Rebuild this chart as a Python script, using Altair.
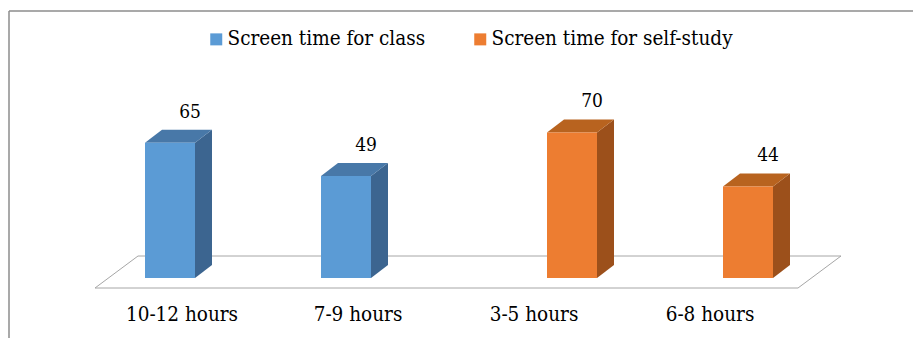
import altair as alt
import pandas as pd

# ---- data ----
categories = ["10-12 hours", "7-9 hours", "3-5 hours", "6-8 hours"]
bar_series = ["Screen time for class", "Screen time for class",
              "Screen time for self-study", "Screen time for self-study"]
values = [65, 49, 70, 44]
series_names = ["Screen time for class", "Screen time for self-study"]

# ---- style ----
front_colors = ["#5B9BD5", "#ED7D31"]
side_colors = ["#3C6590", "#9C501B"]
top_colors = ["#4878A8", "#B8631F"]
FONT = "DejaVu Serif Condensed"

# ---- layout (pixels) ----
W, H = 913, 338
BASE = 278          # pixel row of value 0 at the bar front
K = 2.08            # pixels per unit
STEP = 176          # category step
FIRST_C = 195       # centre of first category slot
BAR_W = 50
DX = 17             # depth, horizontal px
DY = 13 / K         # depth, in value units

front_rows, side_rows, top_rows, lab_rows, cat_rows = [], [], [], [], []
for i, (cat, ser, v) in enumerate(zip(categories, bar_series, values)):
    c = FIRST_C + STEP * i
    si = series_names.index(ser)
    xl = c - BAR_W if si == 0 else c
    xr = xl + BAR_W
    front_rows.append(dict(cat=cat, series=ser, x=xl, x2=xr, y=0, y2=v))
    side_rows += [
        dict(key=cat, col=side_colors[si], x=xr, top=v, bot=0),
        dict(key=cat, col=side_colors[si], x=xr + DX, top=v + DY, bot=DY),
    ]
    top_rows += [
        dict(key=cat, col=top_colors[si], x=xl, top=v, bot=v),
        dict(key=cat, col=top_colors[si], x=xl + DX, top=v + DY, bot=v),
        dict(key=cat, col=top_colors[si], x=xr, top=v + DY, bot=v),
        dict(key=cat, col=top_colors[si], x=xr + DX, top=v + DY, bot=v + DY),
    ]
    lab_rows.append(dict(x=(xl + xr) / 2 + 20, y=v + DY + 18 / K, txt=str(v)))
    cat_rows.append(dict(x=c - 13, txt=cat))

front_df = pd.DataFrame(front_rows)
side_df = pd.DataFrame(side_rows)
top_df = pd.DataFrame(top_rows)
lab_df = pd.DataFrame(lab_rows)
cat_df = pd.DataFrame(cat_rows)

# floor parallelogram (in the same scale space)
f_front = -10 / K
f_back = 22 / K
f_left = FIRST_C - BAR_W - 37 - 13
f_right = FIRST_C + STEP * 3 + BAR_W + 38 - 13
floor_df = pd.DataFrame([
    dict(x=f_left, top=f_front, bot=f_front),
    dict(x=f_left + 43, top=f_back, bot=f_front),
    dict(x=f_right, top=f_back, bot=f_front),
    dict(x=f_right + 43, top=f_back, bot=f_back),
])

xs = alt.Scale(domain=[0, W], nice=False, zero=False)
ys = alt.Scale(domain=[(BASE - H) / K, BASE / K], nice=False, zero=False)

X = lambda f: alt.X(f, type="quantitative", scale=xs, axis=None)
Y = lambda f: alt.Y(f, type="quantitative", scale=ys, axis=None, stack=None)

floor = alt.Chart(floor_df).mark_area(
    orient="vertical", fill="white", stroke="#A6A6A6", strokeWidth=1
).encode(x=X("x"), y=Y("top"), y2="bot")

front = alt.Chart(front_df).mark_rect().encode(
    x=X("x"), x2="x2", y=Y("y"), y2="y2",
    color=alt.Color("series:N",
                    scale=alt.Scale(domain=series_names, range=front_colors),
                    legend=alt.Legend(
                        title=None, orient="none", legendX=206, legendY=29,
                        direction="horizontal", symbolType="square",
                        symbolSize=144, symbolStrokeWidth=0,
                        labelFont=FONT, labelFontSize=20.5, labelColor="black",
                        labelOffset=1, columnPadding=44, labelLimit=400)),
)

side = alt.Chart(side_df).mark_area(orient="vertical").encode(
    x=X("x"), y=Y("top"), y2="bot",
    fill=alt.Fill("col:N", scale=None), detail="key:N",
)

topf = alt.Chart(top_df).mark_area(orient="vertical").encode(
    x=X("x"), y=Y("top"), y2="bot",
    fill=alt.Fill("col:N", scale=None), detail="key:N",
)

labels = alt.Chart(lab_df).mark_text(
    font=FONT, fontSize=19, color="black", baseline="middle"
).encode(x=X("x"), y=Y("y"), text="txt:N")

cat_labels = alt.Chart(cat_df).mark_text(
    font=FONT, fontSize=20.5, color="black", baseline="middle"
).encode(x=X("x"), y=alt.value(315), text="txt:N")

one = pd.DataFrame({"a": [0]})
border_top = alt.Chart(one).mark_rule(color="#8C8C8C", strokeWidth=1.5).encode(
    x=alt.value(9), x2=alt.value(W), y=alt.value(11))
border_left = alt.Chart(one).mark_rule(color="#8C8C8C", strokeWidth=1.5).encode(
    x=alt.value(9), y=alt.value(11), y2=alt.value(H))

chart = alt.layer(
    border_top, border_left, floor, side, topf, front, labels, cat_labels
).properties(
    width=W, height=H, autosize=alt.AutoSizeParams(type="none"), padding=0,
    background="white"
).configure_view(stroke=None)

chart.save("out.html", embed_options={"renderer": "svg", "actions": False})
